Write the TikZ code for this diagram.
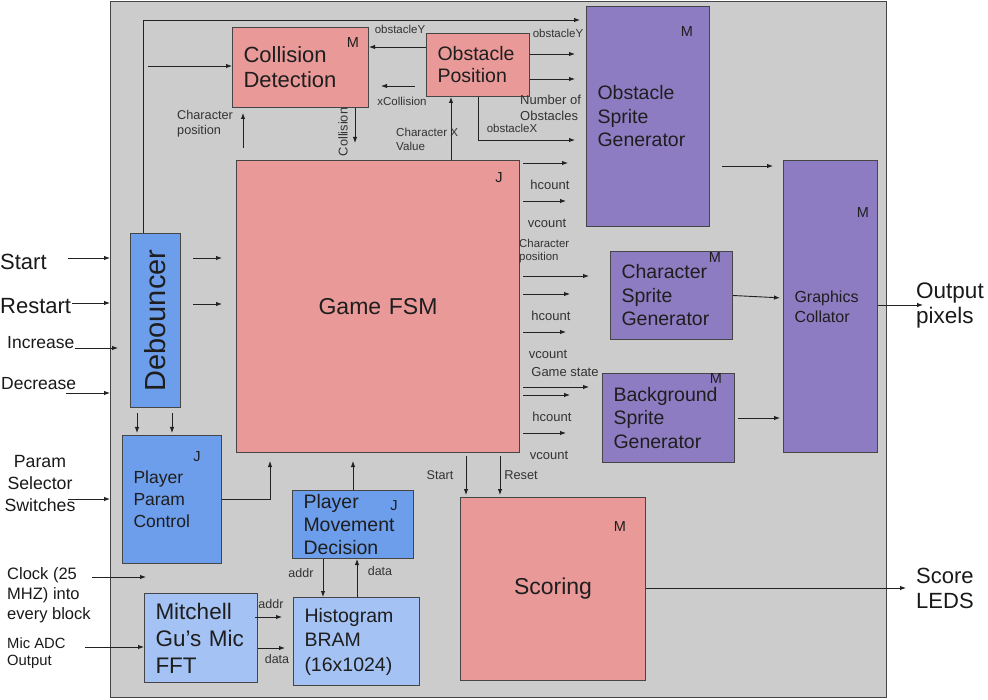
\documentclass[tikz,border=0pt]{standalone}
\usepackage{fontspec}
\setmainfont{Liberation Sans}
\usepackage{graphicx}
\usepackage{tikz}
\usetikzlibrary{calc, arrows.meta}
\definecolor{chipGray}{HTML}{CCCCCC}
\definecolor{chipEdge}{HTML}{454545}
\definecolor{redBlock}{HTML}{EA9999}
\definecolor{purpleBlock}{HTML}{8E7CC3}
\definecolor{blueBlock}{HTML}{6D9EEB}
\definecolor{skyBlock}{HTML}{A4C2F4}
\definecolor{inkColor}{HTML}{1E1E1E}
\definecolor{wireColor}{HTML}{222222}
\newcommand{\fsz}[2]{\fontsize{#1}{#2}\selectfont}

\begin{document}
\begin{tikzpicture}[x=1pt, y=-1pt,
    >={Latex[length=6pt,width=4.5pt]},
    wire/.style={draw=wireColor, line width=0.9pt},
    block/.style={draw=chipEdge, line width=1pt, anchor=north west, align=left,
        inner xsep=11pt, inner ysep=0pt, text=inkColor},
    tag/.style={text=inkColor, font=\fsz{14.5}{16}, inner sep=0pt},
    sig/.style={text=black!80, font=\fsz{11.5}{14}, inner sep=0pt, align=left},
    pin/.style={text=black!90, inner sep=0pt, align=left, anchor=west}]
    \useasboundingbox (0,0) rectangle (988,700);
    \node[draw=chipEdge, fill=chipGray, line width=1.2pt, anchor=north west,
        minimum width=776pt, minimum height=696pt, inner sep=0pt] (chip) at (110,1) {};

    \node[block, fill=redBlock, text width=114pt, minimum height=80pt, font=\fsz{22}{25}] (cd) at (232,27) {Collision\\Detection};
    \node[block, fill=redBlock, text width=81pt, minimum height=63pt, font=\fsz{19.5}{22}] (op) at (426,33) {Obstacle\\Position};
    \node[block, fill=purpleBlock, text width=101pt, minimum height=220pt, font=\fsz{19.5}{23.5}] (osg) at (586,6) {Obstacle\\Sprite\\Generator};
    \node[block, fill=purpleBlock, text width=72pt, minimum height=292pt, font=\fsz{16}{20}] (gc) at (783,160) {Graphics\\Collator};
    \node[block, fill=purpleBlock, text width=100pt, minimum height=88pt, font=\fsz{19.5}{23.5}] (csg) at (610,251) {Character\\Sprite\\Generator};
    \node[block, fill=purpleBlock, text width=110pt, minimum height=89pt, font=\fsz{19.5}{23.5}] (bsg) at (602,373) {Background\\Sprite\\Generator};
    \node[block, fill=redBlock, text width=261pt, align=center, minimum height=292pt, font=\fsz{23}{26}] (fsm) at (236,160) {Game FSM};
    \node[block, fill=blueBlock, inner xsep=0pt, text width=50pt, align=center, minimum height=174pt, font=\fsz{29}{32}] (deb) at (130,233) {\rotatebox{90}{Debouncer}};
    \node[block, fill=blueBlock, text width=77pt, minimum height=128pt, font=\fsz{17.5}{22}] (ppc) at (122,435) {Player\\Param\\Control};
    \node[block, fill=blueBlock, text width=99pt, minimum height=68pt, font=\fsz{19.5}{23}] (pmd) at (292,490) {Player\\Movement\\Decision};
    \node[block, fill=skyBlock, text width=91pt, minimum height=89pt, font=\fsz{22.5}{27}] (fft) at (144,593) {Mitchell\\Gu’s Mic\\FFT};
    \node[block, fill=skyBlock, text width=104pt, minimum height=88pt, font=\fsz{19.5}{24.5}] (hist) at (293,597) {Histogram\\BRAM\\(16x1024)};
    \node[block, fill=redBlock, text width=163pt, align=center, minimum height=183pt, font=\fsz{23}{26}] (sc) at (460,497) {Scoring};

    \foreach \n/\x/\y/\t in {cdM/353/43/M, osgM/687/32/M, gcM/863/213/M, csgM/715/258/M,
        bsgM/716/379/M, fsmJ/499/178/J, ppcJ/197/457/J, pmdJ/394/506/J, scM/620/527/M}
        \node[tag] (\n) at (\x,\y) {\t};

    \draw[wire, ->] ($(deb.north west)+(13,0)$) |- ($(osg.north west)+(-6,14)$);
    \coordinate (cdIn) at (148,66);
    \draw[wire, ->] (cdIn) -- (cdIn -| cd.west);
    \draw[wire, ->] (op.west |- 0,47) -- (cd.east |- 0,47);
    \node[sig] (lObsY) at (400,29) {obstacleY};
    \coordinate (xcFrom) at (415,86);
    \coordinate (xcTo) at (381,86);
    \draw[wire, ->] (xcFrom) -- (xcTo);
    \node[sig] (lXCol) at (402,101) {xCollision};
    \coordinate (colTip) at (355,143);
    \draw[wire, ->] (cd.south -| colTip) -- (colTip);
    \node[sig, rotate=90, font=\fsz{12.8}{14}] (lCol) at (343,132) {Collision};
    \coordinate (cpFrom) at (243,148);
    \coordinate (cpTo) at (243,113);
    \draw[wire, ->] (cpFrom) -- (cpTo);
    \node[sig, anchor=west, font=\fsz{12.7}{15}] (lCharPos) at (177,124) {Character\\position};
    \draw[wire, ->] (fsm.north -| 451,0) -- (op.south -| 451,0);
    \node[sig, anchor=west, font=\fsz{11.6}{14}] (lCharX) at (396,139) {Character X\\Value};

    \foreach \y in {54,79}
        \draw[wire, ->, shorten >=11pt] (op.east |- 0,\y) -- (osg.west |- 0,\y);
    \node[sig] (lObsY2) at (558,33) {obstacleY};
    \node[sig, anchor=west, font=\fsz{13}{16}] (lNumObs) at (520,108) {Number of\\Obstacles};
    \draw[wire, ->, shorten >=11pt] (op.south -| 478,0) |- (osg.west |- 0,140);
    \node[sig] (lObsX) at (512,128) {obstacleX};

    \foreach \y/\t/\s in {163/osg/18, 201/osg/20, 276/csg/21, 294/csg/40, 332/csg/44,
        387/bsg/13, 395/bsg/32, 433/bsg/36}
        \draw[wire, ->, shorten <=3pt, shorten >=\s pt] (fsm.east |- 0,\y) -- (\t.west |- 0,\y);
    \foreach \n/\x/\y/\t in {lH1/550/185/hcount, lV1/547/223/vcount, lH2/551/316/hcount,
        lV2/548/354/vcount, lGS/565/372/Game state, lH3/552/417/hcount, lV3/549/455/vcount}
        \node[sig, font=\fsz{13}{15}] (\n) at (\x,\y) {\t};
    \node[sig, anchor=west, font=\fsz{11.4}{13}] (lCharPos2) at (519,251) {Character\\position};

    \draw[wire, ->, shorten <=12pt, shorten >=10pt] (osg.east |- 0,166) -- (gc.west |- 0,166);
    \draw[wire, ->, shorten >=3pt] (csg.east) -- (gc.west |- 0,298);
    \draw[wire, ->, shorten <=3pt, shorten >=3pt] (bsg.east) -- (bsg.east -| gc.west);
    \coordinate (pixOut) at (923,305);
    \draw[wire, ->] (gc.east |- pixOut) -- (pixOut);
    \node[pin, font=\fsz{22.5}{25}] (lPix) at (916,305) {Output\\pixels};

    \node[pin, font=\fsz{22}{25}] (tStart) at (0,262) {Start};
    \node[pin, font=\fsz{22}{25}] (tRestart) at (0,306) {Restart};
    \node[pin, font=\fsz{17.5}{20}] (tInc) at (7,343) {Increase};
    \node[pin, font=\fsz{17.5}{20}] (tDec) at (1,384) {Decrease};
    \node[pin, anchor=center, align=center, font=\fsz{17.7}{22}] (tParam) at (40,483) {Param\\Selector\\Switches};
    \node[pin, font=\fsz{16.5}{20}] (tClock) at (7,595) {Clock (25\\MHZ) into\\every block};
    \node[pin, font=\fsz{14.8}{17}] (tMic) at (7,653) {Mic ADC\\Output};
    \foreach \n/\x/\y in {inStart/68/258, inRestart/72/303, inDec/66/393, inParam/68/499}
        \coordinate (\n) at (\x,\y);
    \foreach \n in {inStart, inRestart, inDec, inParam}
        \draw[wire, ->] (\n) -- (\n -| chip.west);
    \coordinate (inInc) at (75,348);
    \draw[wire, ->, shorten >=-8pt] (inInc) -- (inInc -| chip.west);
    \coordinate (clkFrom) at (92,577);
    \coordinate (clkTo) at (146,577);
    \draw[wire, ->] (clkFrom) -- (clkTo);
    \coordinate (inMic) at (85,647);
    \draw[wire, ->] (inMic) -- (inMic -| fft.west);

    \foreach \y in {258,304}
        \draw[wire, ->, shorten <=12pt, shorten >=14pt] (deb.east |- 0,\y) -- (fsm.west |- 0,\y);
    \foreach \x in {137,172}
        \draw[wire, ->, shorten <=5pt, shorten >=2pt] (deb.south -| \x,0) -- (ppc.north -| \x,0);
    \draw[wire, ->, shorten >=8pt] (ppc.east |- 0,499) -| (fsm.south -| 270,0);
    \draw[wire, ->, shorten >=8pt] (pmd.north) -- (pmd.north |- fsm.south);

    \draw[wire, ->] (pmd.south -| 323,0) -- (hist.north -| 323,0);
    \draw[wire, ->] (hist.north -| 357,0) -- (pmd.south -| 357,0);
    \node[sig, font=\fsz{12.5}{14}] (lAddr1) at (301,573) {addr};
    \node[sig, font=\fsz{12.5}{14}] (lData1) at (380,571) {data};
    \draw[wire, ->, shorten <=-3pt, shorten >=11pt] (fft.east |- 0,617) -- (hist.west |- 0,617);
    \draw[wire, ->, shorten >=8pt] (fft.east |- 0,648) -- (hist.west |- 0,648);
    \node[sig, font=\fsz{12.5}{14}] (lAddr2) at (271,604) {addr};
    \node[sig, font=\fsz{12.5}{14}] (lData2) at (277,659) {data};

    \foreach \x in {466,500}
        \draw[wire, ->, shorten <=3pt, shorten >=2pt] (fsm.south -| \x,0) -- (sc.north -| \x,0);
    \node[sig, font=\fsz{12.6}{14}] (lStart) at (440,475) {Start};
    \node[sig, font=\fsz{12.8}{14}] (lReset) at (521,475) {Reset};
    \coordinate (ledOut) at (906,588);
    \draw[wire, ->] (sc.east |- ledOut) -- (ledOut);
    \node[pin, font=\fsz{22}{25}] (lLed) at (916,588) {Score\\LEDS};
\end{tikzpicture}
\end{document}
